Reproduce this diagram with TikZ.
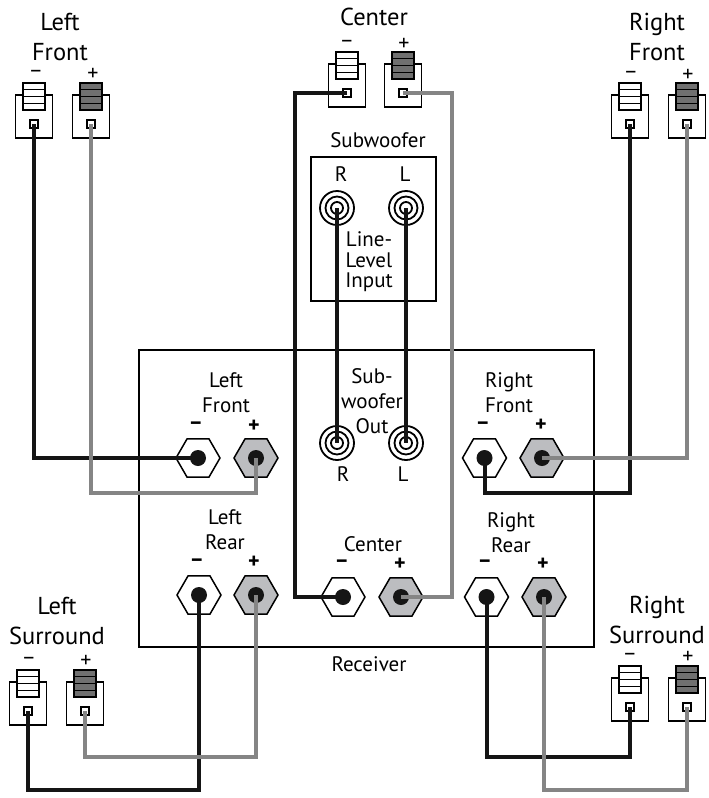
\documentclass[tikz,border=0pt]{standalone}
\usepackage{fontspec}
\setmainfont{PT Sans}
\usetikzlibrary{shapes.geometric}
\definecolor{wiregray}{HTML}{858585}
\definecolor{wireblack}{HTML}{151515}
\definecolor{clipgray}{HTML}{707070}
\definecolor{hexgray}{HTML}{BCBDC0}
\tikzset{
    box/.style={draw, line width=1.5pt, outer sep=0pt, inner sep=0pt},
    spkbody/.style={box, fill=white, minimum width=37pt, minimum height=43pt},
    spkclip/.style={box, line width=1.7pt, minimum width=22pt, minimum height=27pt},
    spkpin/.style={box, line width=1.7pt, fill=white, minimum size=8pt},
    hexnut/.style={draw, line width=1.5pt, regular polygon, regular polygon sides=6,
        minimum size=44pt, inner sep=0pt, outer sep=0pt},
    hexdot/.style={circle, fill=wireblack, minimum size=16pt, inner sep=0pt, outer sep=0pt},
    ring/.style={circle, draw, line width=1.8pt, fill=white, inner sep=0pt, outer sep=0pt},
    blackwire/.style={wireblack, line width=4pt, line join=miter},
    graywire/.style={wiregray, line width=4pt, line join=miter},
    biglabel/.style={inner sep=0pt, align=center, font=\fontsize{24.5}{30}\selectfont},
    smalllabel/.style={inner sep=0pt, align=center, font=\fontsize{21}{25}\selectfont},
    sign/.style={inner sep=0pt, font=\fontsize{22}{22}\selectfont},
    boldsign/.style={inner sep=0pt, font=\fontsize{22}{22}\selectfont\bfseries},
}
% speaker terminal: name, x, y, clip colour
\newcommand{\Speaker}[4]{
    \node[spkbody] (#1-body) at (#2,#3-7.5) {};
    \node[spkclip, fill=#4] (#1-clip) at (#2,#3-27.5) {};
    \foreach \s in {-7,0,7}
        \draw[line width=1.5pt] ([yshift=\s pt]#1-clip.west) -- ([yshift=\s pt]#1-clip.east);
    \node[spkpin] (#1) at (#2,#3) {};
}
% binding post: name, x, y, fill
\newcommand{\Post}[4]{
    \node[hexnut, fill=#4] (#1-nut) at (#2,#3) {};
    \node[hexdot] (#1) at (#2,#3) {};
}
% rca jack: name, x, y
\newcommand{\Jack}[3]{
    \node[ring, minimum size=34pt] (#1) at (#2,#3) {};
    \node[ring, minimum size=23pt] (#1-mid) at (#2,#3) {};
    \node[ring, minimum size=12pt] (#1-in) at (#2,#3) {};
}
\begin{document}
\begin{tikzpicture}[x=1pt,y=-1pt]
    \useasboundingbox (0,0) rectangle (709,798);

    \node[box, minimum width=455pt, minimum height=297pt] (receiver) at (366.5,498.5) {};
    \node[box, minimum width=125pt, minimum height=144pt] (subbox) at (373.5,229) {};

    % speakers
    \Speaker{lfneg}{34}{124}{white}
    \Speaker{lfpos}{91}{124}{clipgray}
    \Speaker{cneg}{347}{93}{white}
    \Speaker{cpos}{403}{93}{clipgray}
    \Speaker{rfneg}{630}{124}{white}
    \Speaker{rfpos}{687}{124}{clipgray}
    \Speaker{lsneg}{28}{711}{white}
    \Speaker{lspos}{85}{711}{clipgray}
    \Speaker{rsneg}{630}{707}{white}
    \Speaker{rspos}{687}{707}{clipgray}

    % receiver posts
    \Post{rlfneg}{198}{458}{white}
    \Post{rlfpos}{256}{458}{hexgray}
    \Post{rrfneg}{484.5}{458}{white}
    \Post{rrfpos}{542}{458}{hexgray}
    \Post{rlrneg}{199}{595}{white}
    \Post{rlrpos}{256}{595}{hexgray}
    \Post{rcneg}{343}{597}{white}
    \Post{rcpos}{401}{597}{hexgray}
    \Post{rrrneg}{486.5}{597}{white}
    \Post{rrrpos}{544}{597}{hexgray}

    % jacks
    \Jack{subr}{337}{208}
    \Jack{subl}{406}{208}
    \Jack{outr}{337}{443}
    \Jack{outl}{406}{443}

    % wires
    \draw[blackwire] (subr.center) -- (outr.center);
    \draw[blackwire] (subl.center) -- (outl.center);
    \draw[blackwire] (lfneg.center) |- (rlfneg.center);
    \draw[blackwire] (cneg.center) -- (295,93) |- (rcneg.center);
    \draw[blackwire] (rrfneg.center) |- (630,493) -- (rfneg.center);
    \draw[blackwire] (rlrneg.center) |- (28,790) -- (lsneg.center);
    \draw[blackwire] (rrrneg.center) |- (630,757) -- (rsneg.center);
    \draw[graywire] (lfpos.center) |- (256,493) -- (rlfpos.center);
    \draw[graywire] (cpos.center) -- (452,93) |- (rcpos.center);
    \draw[graywire] (rrfpos.center) -| (rfpos.center);
    \draw[graywire] (rlrpos.center) |- (85,757) -- (lspos.center);
    \draw[graywire] (rrrpos.center) |- (687,790) -- (rspos.center);

    % speaker labels
    \node[biglabel] (tlf) at (60,37) {Left\\Front};
    \node[biglabel] (tc) at (374,17) {Center};
    \node[biglabel] (trf) at (657,37) {Right\\Front};
    \node[biglabel] (tls) at (57,621) {Left\\Surround};
    \node[biglabel] (trs) at (657,620) {Right\\Surround};

    % receiver labels
    \node[smalllabel] (tsub) at (378,140) {Subwoofer};
    \node[smalllabel] (tr1) at (341,174) {R};
    \node[smalllabel] (tl1) at (405,174) {L};
    \node[smalllabel, font=\fontsize{21}{20.5}\selectfont] (tline) at (369,262) {Line-\\Level\\Input};
    \node[smalllabel] (tout) at (372,401) {Sub-\\woofer\\Out};
    \node[smalllabel] (tr2) at (343,474) {R};
    \node[smalllabel] (tl2) at (403,474) {L};
    \node[smalllabel] (trlf) at (226,393) {Left\\Front};
    \node[smalllabel] (trrf) at (509,393) {Right\\Front};
    \node[smalllabel] (trlr) at (225,530) {Left\\Rear};
    \node[smalllabel] (trc) at (373,544) {Center};
    \node[smalllabel] (trrr) at (511,533) {Right\\Rear};
    \node[smalllabel] (trec) at (369,664) {Receiver};

    % signs
    \foreach \n/\x/\y/\t in {a/36/74/--,b/93/74/+,c/347/44/--,d/404/44/+,e/631/75/--,f/688/75/+,
        g/29/661/--,h/86/661/+,i/630/657/--,j/688/657/+}
        \node[sign] (sign\n) at (\x,\y) {\t};
    \foreach \n/\x/\y/\t in {k/196/426/--,l/254/426/+,m/483/426/--,n/541/425/+,o/197/563/--,p/254/562/+,
        q/342/564/--,r/400/564/+,s/485/564/--,t/543/564/+}
        \node[boldsign] (sign\n) at (\x,\y) {\t};
\end{tikzpicture}
\end{document}
